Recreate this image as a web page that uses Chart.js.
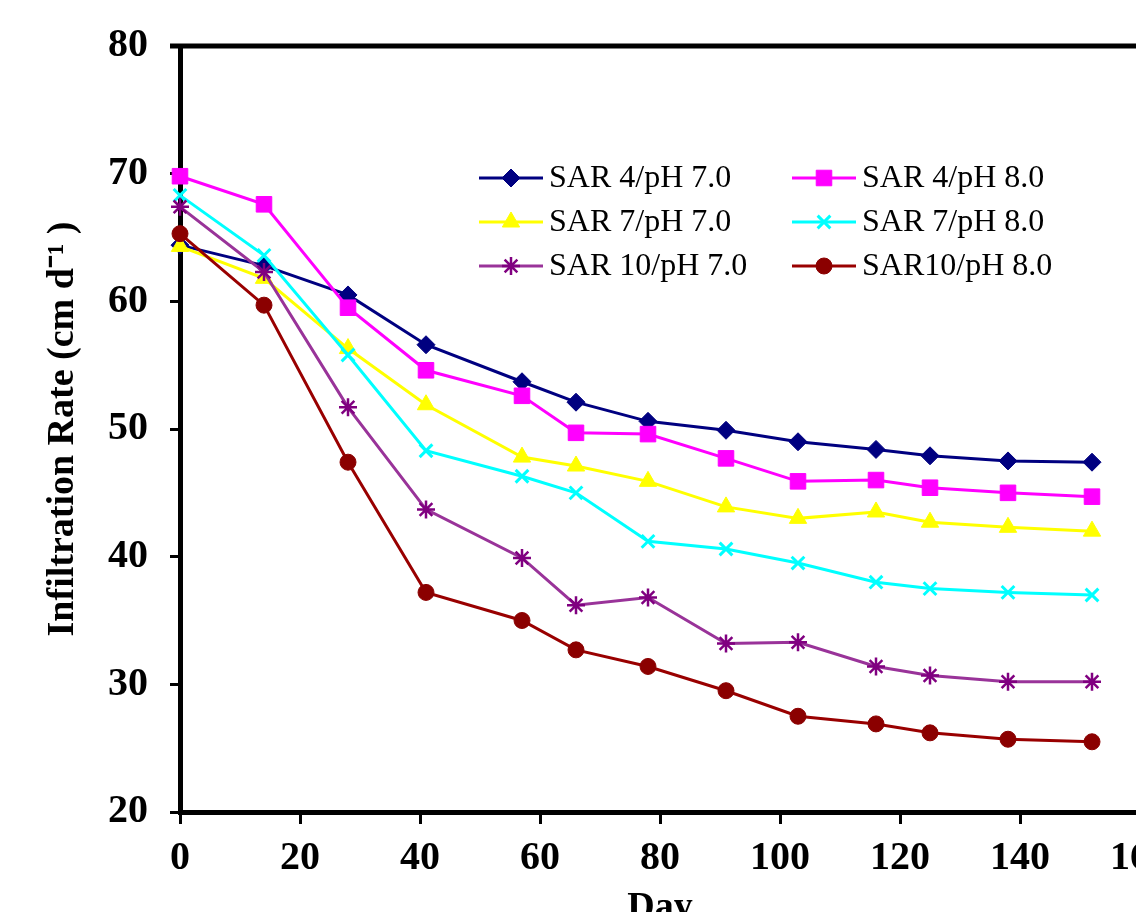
<!DOCTYPE html>
<html>
<head>
<meta charset="utf-8">
<style>
  html, body { margin: 0; padding: 0; overflow: hidden; background: #fff; }
  #wrap { position: absolute; left: 0; top: 0; width: 1200px; height: 960px; }
</style>
</head>
<body>
<div id="wrap"><canvas id="myChart" width="1200" height="960"></canvas></div>
<script src="https://cdn.jsdelivr.net/npm/chart.js"></script>
<script>
const days = [0, 14, 28, 41, 57, 66, 78, 91, 103, 116, 125, 138, 152];

const sar4ph7 = [64.4, 62.8, 60.5, 56.6, 53.7, 52.1, 50.6, 49.9, 49.0, 48.4, 47.9, 47.5, 47.4];
const sar4ph8 = [69.8, 67.6, 59.5, 54.6, 52.6, 49.7, 49.6, 47.7, 45.9, 46.0, 45.4, 45.0, 44.7];
const sar7ph7 = [64.3, 61.8, 56.3, 51.9, 47.8, 47.1, 45.9, 43.9, 43.0, 43.5, 42.7, 42.3, 42.0];
const sar7ph8 = [68.3, 63.6, 55.8, 48.3, 46.3, 45.0, 41.2, 40.6, 39.5, 38.0, 37.5, 37.2, 37.0];
const sar10ph7 = [67.4, 62.3, 51.7, 43.7, 39.9, 36.2, 36.8, 33.2, 33.3, 31.4, 30.7, 30.2, 30.2];
const sar10ph8 = [65.3, 59.7, 47.4, 37.2, 35.0, 32.7, 31.4, 29.5, 27.5, 26.9, 26.2, 25.7, 25.5];

const seriesNames = ["SAR 4/pH 7.0", "SAR 4/pH 8.0", "SAR 7/pH 7.0", "SAR 7/pH 8.0", "SAR 10/pH 7.0", "SAR10/pH 8.0"];
const xTicks = [0, 20, 40, 60, 80, 100, 120, 140, 160];
const yTicks = [20, 30, 40, 50, 60, 70, 80];

const toPoints = (vals) => vals.map((v, i) => ({ x: days[i], y: v }));

const tickFont = { family: "'Liberation Serif', 'Times New Roman', serif", size: 40, weight: "bold" };
const titleFont = { family: "'Liberation Serif', 'Times New Roman', serif", size: 38, weight: "bold" };

function series(idx, vals, line, marker, style, radius, bw) {
  return {
    label: seriesNames[idx],
    data: toPoints(vals),
    borderColor: line,
    borderWidth: 3,
    backgroundColor: marker,
    pointStyle: style,
    pointRadius: radius,
    pointBackgroundColor: marker,
    pointBorderColor: marker,
    pointBorderWidth: bw,
    tension: 0,
    clip: false,
    order: 6 - idx,
  };
}

const datasets = [
  series(0, sar4ph7, "#000080", "#000080", "rectRot", 9, 1),
  series(1, sar4ph8, "#FF00FF", "#FF00FF", "rect", 11, 1),
  series(2, sar7ph7, "#FFFF00", "#FFFF00", "triangle", 10, 1),
  series(3, sar7ph8, "#00FFFF", "#00FFFF", "crossRot", 9, 3),
  series(4, sar10ph7, "#993399", "#800080", "star", 9, 2.5),
  series(5, sar10ph8, "#990000", "#8B0000", "circle", 8, 1),
];

// top and right frame of the plot area
const framePlugin = {
  id: "frame",
  beforeDatasetsDraw(chart) {
    const { ctx, chartArea: a } = chart;
    ctx.save();
    ctx.strokeStyle = "#000";
    ctx.lineWidth = 5;
    ctx.beginPath();
    ctx.moveTo(a.left - 10, a.top);
    ctx.lineTo(a.right, a.top);
    ctx.lineTo(a.right, a.bottom);
    ctx.stroke();
    ctx.restore();
  },
};

// two-column legend inside the plot
const legendPlugin = {
  id: "gridLegend",
  afterDraw(chart) {
    const ctx = chart.ctx;
    const colX = [479, 792];
    const rowY = [178, 222, 266];
    ctx.save();
    chart.data.datasets.forEach((ds, i) => {
      const x0 = colX[i % 2];
      const y = rowY[Math.floor(i / 2)];
      ctx.strokeStyle = ds.borderColor;
      ctx.lineWidth = 3;
      ctx.beginPath();
      ctx.moveTo(x0, y);
      ctx.lineTo(x0 + 64, y);
      ctx.stroke();
      ctx.fillStyle = ds.pointBackgroundColor;
      ctx.strokeStyle = ds.pointBorderColor;
      ctx.lineWidth = ds.pointBorderWidth;
      Chart.helpers.drawPoint(ctx, {
        pointStyle: ds.pointStyle,
        radius: ds.pointRadius,
        borderWidth: ds.pointBorderWidth,
        rotation: 0,
      }, x0 + 32, y);
      ctx.fillStyle = "#000";
      ctx.font = "32px 'Liberation Serif', 'Times New Roman', serif";
      ctx.textBaseline = "middle";
      ctx.textAlign = "left";
      ctx.fillText(ds.label, x0 + 70, y + 1);
    });
    ctx.restore();
  },
};

const ctx = document.getElementById("myChart");
const myChart = new Chart(ctx, {
  type: "line",
  data: { datasets: datasets },
  plugins: [framePlugin, legendPlugin],
  options: {
    responsive: false,
    animation: false,
    events: [],
    layout: { padding: { top: 45, right: 60, bottom: 0, left: 0 } },
    plugins: {
      legend: { display: false },
      tooltip: { enabled: false },
    },
    scales: {
      x: {
        type: "linear",
        min: 0,
        max: 160,
        afterBuildTicks: (s) => { s.ticks = xTicks.map((v) => ({ value: v })); },
        afterFit: (s) => { s.height = 148; },
        border: { display: true, color: "#000", width: 5 },
        grid: { drawOnChartArea: false, drawTicks: true, tickLength: 12, tickWidth: 3, tickColor: "#000" },
        ticks: { color: "#000", font: tickFont, padding: 11, maxRotation: 0 },
        title: { display: true, text: "Day", color: "#000", font: titleFont, padding: { top: 0, bottom: 29 } },
      },
      y: {
        min: 20,
        max: 80,
        afterBuildTicks: (s) => { s.ticks = yTicks.map((v) => ({ value: v })); },
        afterFit: (s) => { s.width = 180; },
        border: { display: true, color: "#000", width: 5 },
        grid: { drawOnChartArea: false, drawTicks: true, tickLength: 10, tickWidth: 3, tickColor: "#000" },
        ticks: { color: "#000", font: tickFont, padding: 22 },
        title: {
          display: true,
          text: "Infiltration Rate (cm d\u207B\u00B9 )",
          color: "#000",
          font: titleFont,
          padding: { top: 40, bottom: 0 },
        },
      },
    },
  },
});
</script>
</body>
</html>
